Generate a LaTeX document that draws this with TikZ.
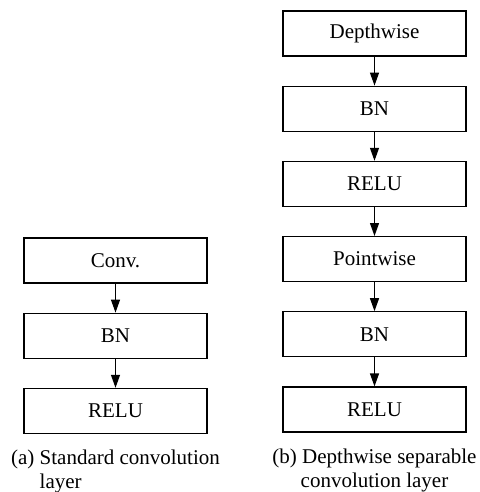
\documentclass[tikz,border=0pt]{standalone}
\usepackage{fontspec}
\setmainfont{Liberation Serif}
\usetikzlibrary{positioning}
\usetikzlibrary{arrows.meta}
\tikzset{
  layer/.style={rectangle,draw,line width=0.6pt,
                minimum width=91.5pt,minimum height=22.5pt,
                inner sep=0pt,font=\fontsize{10.5}{12.6}\selectfont},
  flow/.style={-{Triangle[length=6.5pt,width=4.5pt]},line width=0.6pt},
  caption/.style={inner sep=0pt,font=\fontsize{10.5}{12}\selectfont},
}
\begin{document}
\begin{tikzpicture}[node distance=14.5pt]
  \useasboundingbox (0,0) rectangle (240pt,-246pt);

  % (a) standard convolution
  \node[layer] (conv)               at (57.75pt,-130.25pt) {Conv.};
  \node[layer] (bnA)  [below=of conv] {BN};
  \node[layer] (reluA)[below=of bnA]  {RELU};

  \draw[flow] (conv) -- (bnA);
  \draw[flow] (bnA) -- (reluA);

  \node[caption,align=left] (capA) [below=8pt of reluA]
      {(a) Standard convolution\\\hphantom{(a) }layer};

  % (b) depthwise separable convolution
  \node[layer] (depth)                at (187.25pt,-16.75pt) {Depthwise};
  \node[layer] (bnB)   [below=of depth] {BN};
  \node[layer] (reluB) [below=of bnB]   {RELU};
  \node[layer] (point) [below=of reluB] {Pointwise};
  \node[layer] (bnC)   [below=of point] {BN};
  \node[layer] (reluC) [below=of bnC]   {RELU};

  \draw[flow] (depth) -- (bnB);
  \draw[flow] (bnB) -- (reluB);
  \draw[flow] (reluB) -- (point);
  \draw[flow] (point) -- (bnC);
  \draw[flow] (bnC) -- (reluC);

  \node[caption,align=center] (capB) [below=8pt of reluC]
      {(b) Depthwise separable\\convolution layer};
\end{tikzpicture}
\end{document}
